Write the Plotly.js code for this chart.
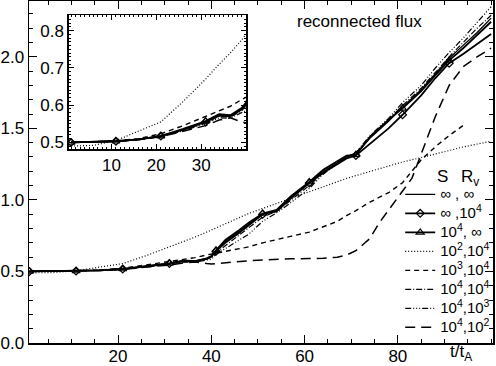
<!DOCTYPE html>
<html>
<head>
<meta charset="utf-8">
<script src="https://cdn.plot.ly/plotly-3.0.1.min.js"></script>
<style>
    html, body { margin: 0; padding: 0; background: #fff; }
    #graph { width: 496px; height: 366px; }
</style>
</head>
<body>
<div id="graph"></div>
<script>
// =======! data (time in units of t_A) !=======
const time = [1, 6, 11, 16, 21, 26, 31, 34, 36.5, 39, 40, 41, 43, 46, 48, 51, 54, 57,
    61, 64, 67, 69, 71, 74, 76, 78, 81, 83, 85, 88, 91, 94, 97, 100];

const flux_inf_inf = [0.500, 0.501, 0.503, 0.508, 0.517, 0.535, 0.556, 0.575, 0.572, 0.590, 0.605, 0.645,
    0.71, 0.78, 0.83, 0.90, 0.925, 1.02, 1.12, 1.20, 1.26, 1.30, 1.32, 1.43, 1.49, 1.55, 1.65, 1.71,
    1.77, 1.88, 1.99, 2.08, 2.17, 2.27];
const flux_inf_1e4 = [0.500, 0.501, 0.503, 0.508, 0.517, 0.534, 0.555, 0.572, 0.570, 0.588, 0.603, 0.642,
    0.70, 0.77, 0.82, 0.90, 0.92, 1.01, 1.118, 1.19, 1.25, 1.29, 1.31, 1.39, 1.44, 1.50, 1.595, 1.66,
    1.73, 1.85, 1.955, 2.02, 2.09, 2.16];
const flux_1e4_inf = [0.500, 0.501, 0.503, 0.508, 0.517, 0.536, 0.557, 0.576, 0.573, 0.592, 0.607, 0.648,
    0.72, 0.79, 0.84, 0.905, 0.93, 1.025, 1.125, 1.21, 1.27, 1.31, 1.315, 1.44, 1.50, 1.56, 1.64, 1.70,
    1.76, 1.87, 1.975, 2.06, 2.15, 2.245];
const flux_1e2_1e4 = [0.490, 0.492, 0.505, 0.530, 0.555, 0.610, 0.670, 0.710, 0.740, 0.775, 0.790, 0.800,
    0.83, 0.875, 0.905, 0.94, 0.975, 1.01, 1.06, 1.09, 1.13, 1.15, 1.17, 1.20, 1.22, 1.24, 1.265, 1.28,
    1.295, 1.32, 1.345, 1.37, 1.39, 1.41];
const flux_1e3_1e4 = [0.500, 0.501, 0.504, 0.510, 0.523, 0.545, 0.570, 0.585, 0.597, 0.615, 0.621, 0.628,
    0.64, 0.66, 0.672, 0.70, 0.72, 0.745, 0.775, 0.81, 0.85, 0.89, 0.925, 0.985, 1.02, 1.05, 1.12, 1.20,
    1.28, 1.37, 1.45, 1.52, null, null];
const flux_1e4_1e4 = [0.500, 0.501, 0.503, 0.508, 0.516, 0.533, 0.553, 0.570, 0.568, 0.585, 0.598, 0.630,
    0.68, 0.75, 0.80, 0.88, 0.92, 1.00, 1.10, 1.19, 1.26, 1.30, 1.33, 1.44, 1.50, 1.56, 1.66, 1.72,
    1.78, 1.89, 2.00, 2.10, 2.20, 2.29];
const flux_1e4_1e3 = [0.500, 0.501, 0.503, 0.507, 0.515, 0.531, 0.550, 0.566, 0.565, 0.580, 0.585, 0.620,
    0.66, 0.72, 0.76, 0.85, 0.91, 0.98, 1.08, 1.18, 1.25, 1.30, 1.33, 1.45, 1.51, 1.57, 1.68, 1.74,
    1.80, 1.92, 2.03, 2.13, 2.24, 2.35];
const flux_1e4_1e2 = [0.500, 0.501, 0.503, 0.507, 0.515, 0.530, 0.545, 0.560, 0.566, 0.555, 0.552, 0.555,
    0.562, 0.57, 0.575, 0.58, 0.585, 0.588, 0.59, 0.592, 0.60, 0.615, 0.645, 0.73, 0.84, 0.93, 1.06, 1.15,
    1.32, 1.58, 1.80, 1.93, 2.00, 2.06];

// S, R_v pairs
const legend_names = [
    '\u221e , \u221e',
    '\u221e ,10<sup>4</sup>',
    '10<sup>4</sup>, \u221e',
    '10<sup>2</sup>,10<sup>4</sup>',
    '10<sup>3</sup>,10<sup>4</sup>',
    '10<sup>4</sup>,10<sup>4</sup>',
    '10<sup>4</sup>,10<sup>3</sup>',
    '10<sup>4</sup>,10<sup>2</sup>'
];
const marker_times = [1, 11, 21, 31, 41, 51, 61, 71, 81, 91];

// =======! styles !=======
const series = [
    {y: flux_inf_inf, dash: 'solid', width: 1.3, symbol: null, size: 0},
    {y: flux_inf_1e4, dash: 'solid', width: 1.8, symbol: 'diamond-open', size: 6},
    {y: flux_1e4_inf, dash: 'solid', width: 1.8, symbol: 'triangle-up-open', size: 7},
    {y: flux_1e2_1e4, dash: '1px,2px', width: 1.2, symbol: null, size: 0},
    {y: flux_1e3_1e4, dash: '5px,4px', width: 1.4, symbol: null, size: 0},
    {y: flux_1e4_1e4, dash: '6px,2px,1px,2px', width: 1.2, symbol: null, size: 0},
    {y: flux_1e4_1e3, dash: '6px,2px,1px,2px,1px,2px,1px,2px', width: 1.2, symbol: null, size: 0},
    {y: flux_1e4_1e2, dash: '10px,6px', width: 1.5, symbol: null, size: 0}
];

const traces = [];
series.forEach((s, i) => {
    const line = {color: 'black', width: s.width, dash: s.dash};
    const marker = {symbol: s.symbol, size: s.size, color: 'black', line: {color: 'black', width: 1.2}};
    // legend entry only (legend font is small so rows sit close, the label span is bigger)
    traces.push({
        x: [null], y: [null], type: 'scatter',
        name: '<span style="font-size:15px">' + legend_names[i] + '</span>',
        mode: s.symbol ? 'lines+markers' : 'lines', line: line, marker: marker,
        hoverinfo: 'skip'
    });
    [['x', 'y'], ['x2', 'y2']].forEach(([xa, ya]) => {
        traces.push({
            x: time, y: s.y, type: 'scatter', mode: 'lines', line: line,
            xaxis: xa, yaxis: ya, showlegend: false, hoverinfo: 'skip'
        });
        if (s.symbol) {
            const idx = time.map((t, k) => marker_times.includes(t) ? k : -1).filter(k => k >= 0);
            traces.push({
                x: idx.map(k => time[k]), y: idx.map(k => s.y[k]), type: 'scatter', mode: 'markers',
                marker: marker, xaxis: xa, yaxis: ya, showlegend: false, hoverinfo: 'skip'
            });
        }
    });
});

const axis_base = {
    showline: true, linecolor: 'black', linewidth: 1.5, mirror: 'allticks',
    ticks: 'inside', tickcolor: 'black', tickwidth: 1, showgrid: false, zeroline: false,
    tickfont: {size: 17}
};

const layout = {
    width: 496, height: 366,
    margin: {l: 29, r: 1, t: 1, b: 23},
    paper_bgcolor: 'white', plot_bgcolor: 'white',
    font: {family: 'Liberation Sans, Arial, sans-serif', size: 16, color: 'black'},
    showlegend: true,
    legend: {
        x: 0.80, y: 0.477, xanchor: 'left', yanchor: 'top',
        bgcolor: 'rgba(0,0,0,0)', borderwidth: 0, itemwidth: 30,
        font: {size: 12}, tracegroupgap: 0
    },
    xaxis: Object.assign({}, axis_base, {
        range: [0.9, 100.4], tickmode: 'array', tickvals: [20, 40, 60, 80], ticklen: 8,
        ticklabelstandoff: -3,
        minor: {tickmode: 'linear', tick0: 0, dtick: 5, ticks: 'inside', ticklen: 4, tickcolor: 'black', showgrid: false}
    }),
    yaxis: Object.assign({}, axis_base, {
        range: [0, 2.39], tickmode: 'array', tickvals: [0, 0.5, 1, 1.5, 2], tickformat: '.1f', ticklen: 8,
        minor: {tickmode: 'linear', tick0: 0, dtick: 0.1, ticks: 'inside', ticklen: 4, tickcolor: 'black', showgrid: false}
    }),
    xaxis2: Object.assign({}, axis_base, {
        domain: [0.0858, 0.4678], anchor: 'y2', range: [0.5, 40],
        tickmode: 'array', tickvals: [10, 20, 30], ticklen: 5,
        minor: {tickmode: 'linear', tick0: 0, dtick: 1, ticks: 'inside', ticklen: 2, tickcolor: 'black', showgrid: false}
    }),
    yaxis2: Object.assign({}, axis_base, {
        domain: [0.567, 0.959], anchor: 'x2', range: [0.482, 0.842],
        tickmode: 'array', tickvals: [0.5, 0.6, 0.7, 0.8], tickformat: '.1f', ticklen: 5,
        minor: {tickmode: 'linear', tick0: 0, dtick: 0.01, ticks: 'inside', ticklen: 2, tickcolor: 'black', showgrid: false}
    }),
    annotations: [
        {text: 'reconnected flux', xref: 'paper', yref: 'paper', x: 0.712, y: 0.94,
            xanchor: 'center', yanchor: 'middle', showarrow: false, font: {size: 17}},
        {text: 'S', xref: 'paper', yref: 'paper', x: 0.891, y: 0.488,
            xanchor: 'center', yanchor: 'middle', showarrow: false, font: {size: 17}},
        {text: 'R<sub>v</sub>', xref: 'paper', yref: 'paper', x: 0.951, y: 0.483,
            xanchor: 'center', yanchor: 'middle', showarrow: false, font: {size: 17}},
        {text: 't/t<sub>A</sub>', xref: 'paper', yref: 'paper', x: 0.931, y: -0.03,
            xanchor: 'center', yanchor: 'middle', showarrow: false, font: {size: 17}}
    ]
};

Plotly.newPlot('graph', traces, layout, {staticPlot: true});
</script>
</body>
</html>
